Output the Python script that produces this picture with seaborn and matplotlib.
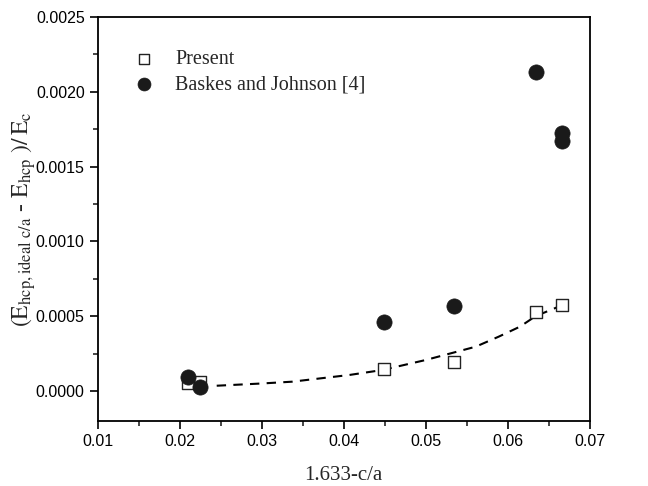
import numpy as np
import pandas as pd
import matplotlib
matplotlib.use("Agg")
import matplotlib.pyplot as plt
import seaborn as sns
from matplotlib.ticker import MultipleLocator, FormatStrFormatter

# Data
present_x = [0.0210, 0.0225, 0.0449, 0.0535, 0.0634, 0.0666]
present_y = [0.000053, 0.000062, 0.000147, 0.000194, 0.000528, 0.000575]

baskes_x = [0.0210, 0.0225, 0.0449, 0.0535, 0.0634, 0.0666, 0.0666]
baskes_y = [0.0000935, 0.000029, 0.000461, 0.000568, 0.00213, 0.001725, 0.00167]

fit_x = [0.0245, 0.0300, 0.0337, 0.0407, 0.0447, 0.0500, 0.0561, 0.0589, 0.0615, 0.0634, 0.0661]
fit_y = [0.000035, 0.000050, 0.000062, 0.000107, 0.000140, 0.000207, 0.000296, 0.000363, 0.000430, 0.000500, 0.000561]

sns.set_theme(style="ticks")
plt.rcParams['font.family'] = ['Liberation Sans', 'DejaVu Sans']
plt.rcParams['mathtext.fontset'] = 'stix'

fig = plt.figure(figsize=(6.48, 4.86), dpi=100)
ax = fig.add_axes([0.151, 0.134, 0.759, 0.831])

df_p = pd.DataFrame({"x": present_x, "y": present_y})
df_b = pd.DataFrame({"x": baskes_x, "y": baskes_y})
df_f = pd.DataFrame({"x": fit_x, "y": fit_y})

sns.lineplot(data=df_f, x="x", y="y", ax=ax, color="black", linestyle=(0, (4.5, 3.5)),
             linewidth=1.5, sort=False, zorder=1)
sns.scatterplot(data=df_p, x="x", y="y", ax=ax, marker="s", s=70,
                facecolor="white", edgecolor="#222222", linewidth=1.0,
                label="Present", zorder=2)
sns.scatterplot(data=df_b, x="x", y="y", ax=ax, marker="o", s=120,
                color="#1a1a1a", edgecolor="#1a1a1a", linewidth=0.5,
                label="Baskes and Johnson [4]", zorder=3)

ax.set_xlim(0.01, 0.07)
ax.set_ylim(-0.0002, 0.0025)
ax.xaxis.set_major_locator(MultipleLocator(0.01))
ax.xaxis.set_minor_locator(MultipleLocator(0.005))
ax.yaxis.set_major_locator(MultipleLocator(0.0005))
ax.yaxis.set_minor_locator(MultipleLocator(0.00025))
ax.xaxis.set_major_formatter(FormatStrFormatter('%.2f'))
ax.yaxis.set_major_formatter(FormatStrFormatter('%.4f'))

ax.tick_params(axis='both', which='major', direction='out', length=5.5, width=1.2,
               labelsize=11.5, colors='black', pad=4)
ax.tick_params(axis='both', which='minor', direction='out', length=3.5, width=1.2)
for sp in ax.spines.values():
    sp.set_visible(True)
    sp.set_color('black')
    sp.set_linewidth(1.3)

ax.set_xlabel("1.633-c/a", family=['Liberation Serif'], fontsize=15, labelpad=12)
ax.set_ylabel(r"$(\mathrm{E}_{\mathrm{hcp,ideal\ c/a}}$ - $\mathrm{E}_{\mathrm{hcp}}\ )/\,\mathrm{E}_{\mathrm{c}}$",
              family=['Liberation Serif'], fontsize=17)
ax.yaxis.set_label_coords(-0.122, 0.5)

leg = ax.legend(loc="upper left", bbox_to_anchor=(0.045, 0.938), frameon=False,
                prop={'family': 'Liberation Serif', 'size': 14.5},
                handletextpad=0.75, labelspacing=0.3, borderaxespad=0.0,
                markerscale=0.85, handlelength=1.6)

fig.savefig("out.png", dpi=100)
